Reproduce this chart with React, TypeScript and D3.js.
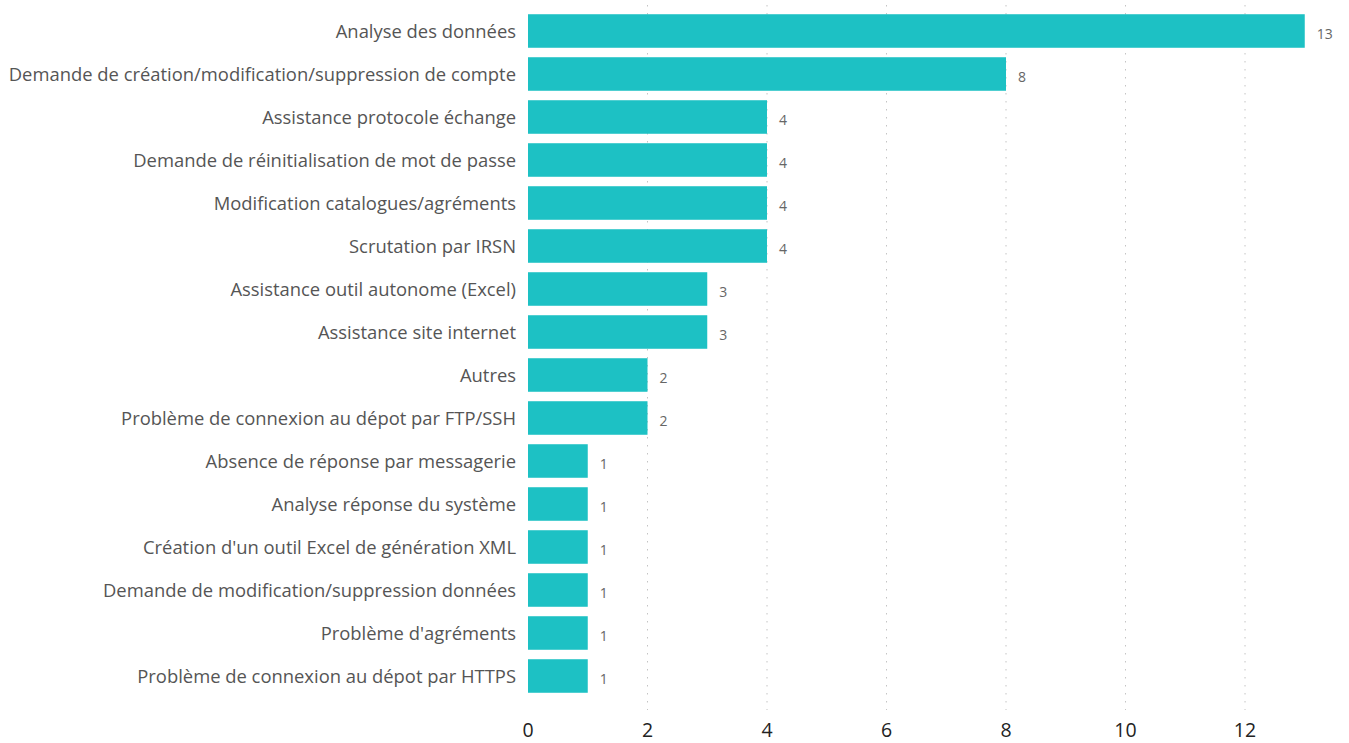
import React from "react";
import * as d3 from "d3";

const categories = [
  "Analyse des données",
  "Demande de création/modification/suppression de compte",
  "Assistance protocole échange",
  "Demande de réinitialisation de mot de passe",
  "Modification catalogues/agréments",
  "Scrutation par IRSN",
  "Assistance outil autonome (Excel)",
  "Assistance site internet",
  "Autres",
  "Problème de connexion au dépot par FTP/SSH",
  "Absence de réponse par messagerie",
  "Analyse réponse du système",
  "Création d'un outil Excel de génération XML",
  "Demande de modification/suppression données",
  "Problème d'agréments",
  "Problème de connexion au dépot par HTTPS",
];
const values = [13, 8, 4, 4, 4, 4, 3, 3, 2, 2, 1, 1, 1, 1, 1, 1];
const xTicks = [0, 2, 4, 6, 8, 10, 12];

const W = 1349;
const H = 743;
const x0 = 528;
const xPerUnit = (1245 - 528) / 12;

export default function App() {
  const x = d3.scaleLinear().domain([0, 12]).range([x0, x0 + 12 * xPerUnit]);
  const y = d3
    .scaleBand<string>()
    .domain(categories)
    .range([9.5, 9.5 + 16 * 43])
    .paddingInner(0.22)
    .paddingOuter(0.11);
  const font = "'Open Sans', 'Noto Sans', sans-serif";
  return (
    <svg
      width={W}
      height={H}
      style={{ position: "absolute", left: 0, top: 0, display: "block", background: "#fff" }}
    >
      {xTicks.slice(1).map((t) => (
        <line
          key={"g" + t}
          x1={x(t)}
          x2={x(t)}
          y1={5}
          y2={710}
          stroke="#c4c4c4"
          strokeWidth={1}
          strokeDasharray="1.5,6.5"
        />
      ))}
      {xTicks.map((t) => (
        <text
          key={"t" + t}
          x={x(t)}
          y={737}
          textAnchor="middle"
          fontFamily={font}
          fontSize={19.5}
          fill="#222"
        >
          {t}
        </text>
      ))}
      {categories.map((c, i) => {
        const yy = y(c)!;
        const bh = y.bandwidth();
        return (
          <g key={c}>
            <rect x={x(0)} y={yy} width={x(values[i]) - x(0)} height={bh} fill="#1DC1C4" />
            <text
              x={516}
              y={yy + bh / 2 + 7}
              textAnchor="end"
              fontFamily={font}
              fontSize={18.4}
              fill="#555"
            >
              {c}
            </text>
            <text
              x={x(values[i]) + 12}
              y={yy + bh / 2 + 7.5}
              fontFamily={font}
              fontSize={14}
              fill="#666"
            >
              {values[i]}
            </text>
          </g>
        );
      })}
    </svg>
  );
}
